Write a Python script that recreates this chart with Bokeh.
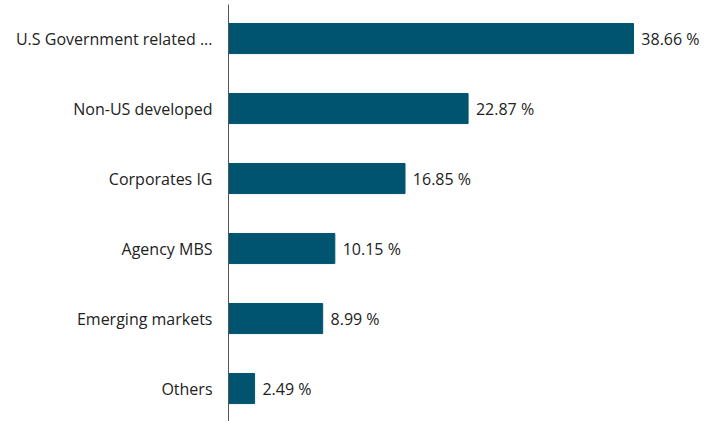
from bokeh.plotting import figure
from bokeh.models import ColumnDataSource, Range1d, FixedTicker
from bokeh.embed import file_html
from bokeh.resources import INLINE
from bokeh.core.properties import value

categories = ["U.S Government related ...", "Non-US developed", "Corporates IG",
              "Agency MBS", "Emerging markets", "Others"]
values = [38.66, 22.87, 16.85, 10.15, 8.99, 2.49]

n = len(categories)
ypos = [n - 1 - i for i in range(n)]
labels = [f"{v:.2f} %" for v in values]

src = ColumnDataSource(dict(y=ypos, v=values, lab=labels, lx=[v + 0.75 for v in values]))

p = figure(width=706, height=421, output_backend="svg", toolbar_location=None,
           x_range=Range1d(0, 45.63), y_range=Range1d(-0.471, 5.486),
           min_border_left=228, min_border_right=0, min_border_top=4, min_border_bottom=0)
p.outline_line_color = None
p.grid.visible = False
p.xaxis.visible = False

p.hbar(y="y", right="v", left=0, height=0.43, source=src, color="#00546f")
p.text(x="lx", y="y", text="lab", source=src, text_baseline="middle", text_align="left",
       text_font=value("Open Sans"), text_font_size="16px", text_color="#222222")

ya = p.yaxis[0]
ya.ticker = FixedTicker(ticks=ypos)
ya.major_label_overrides = {y: c for y, c in zip(ypos, categories)}
ya.major_tick_line_color = None
ya.minor_tick_line_color = None
ya.major_tick_out = 0
ya.major_tick_in = 0
ya.major_label_standoff = 16
ya.axis_line_color = "#555555"
ya.axis_line_width = 1
ya.major_label_text_font = "Open Sans"
ya.major_label_text_font_size = "16px"
ya.major_label_text_color = "#222222"

open("out.html", "w").write(file_html(p, INLINE))
